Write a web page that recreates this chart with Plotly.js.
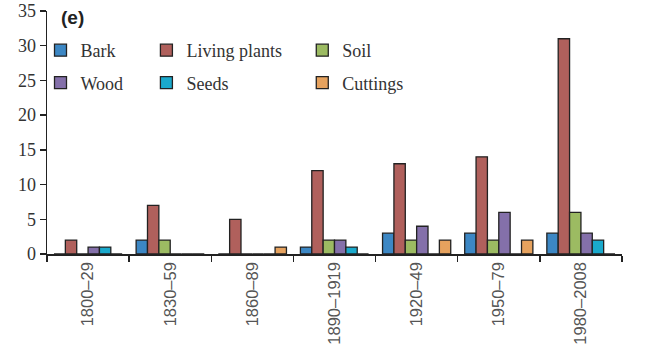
<!DOCTYPE html>
<html>
<head>
<meta charset="utf-8">
<script src="https://cdn.plot.ly/plotly-3.0.1.min.js"></script>
<style>html,body{margin:0;padding:0;background:#fff;}#chart{width:650px;height:358px;}</style>
</head>
<body>
<div id="chart"></div>
<script>
var categories = ['1800–29','1830–59','1860–89','1890–1919','1920–49','1950–79','1980–2008'];
var bark     = [0, 2, 0, 1, 3, 3, 3];
var living   = [2, 7, 5, 12, 13, 14, 31];
var soil     = [0, 2, 0, 2, 2, 2, 6];
var wood     = [1, 0, 0, 2, 4, 6, 3];
var seeds    = [1, 0, 0, 1, 0, 0, 2];
var cuttings = [0, 0, 1, 0, 2, 2, 0];

var seriesNames = ['Bark','Living plants','Soil','Wood','Seeds','Cuttings'];
var seriesData = [bark, living, soil, wood, seeds, cuttings];
var seriesColors = ['#3c87c4','#b0605c','#9cbb62','#8470aa','#1aa9cc','#e6a25e'];
var seriesLegend = ['legend','legend2','legend3','legend','legend2','legend3'];

var traces = seriesNames.map(function(name, i){
  return {
    type: 'bar',
    name: name,
    x: categories,
    y: seriesData[i],
    legend: seriesLegend[i],
    legendgroup: name,
    marker: {color: seriesColors[i], line: {color: '#222', width: 1.3}},
    hoverinfo: 'skip'
  };
});

var L = 46.5, R = 622, T = 11, B = 254, W = 650, H = 358;
function px(x){ return (x - L) / (R - L); }
function py(y){ return (B - y) / (B - T); }

var SERIF = 'Liberation Serif';
var legendFont = {family: SERIF, size: 18, color: '#333'};
function legendAt(x){
  return {x: px(x), xanchor: 'left', y: py(32), yanchor: 'top', orientation: 'v',
    font: legendFont, bgcolor: 'rgba(0,0,0,0)', borderwidth: 0,
    traceorder: 'grouped', tracegroupgap: 6, itemwidth: 30, itemclick: false};
}

var layout = {
  width: W, height: H,
  margin: {l: L, r: W - R, t: T, b: H - B, pad: 0},
  paper_bgcolor: '#fff', plot_bgcolor: '#fff',
  barmode: 'group', bargap: 0.17, bargroupgap: 0,
  showlegend: true,
  legend: legendAt(40),
  legend2: legendAt(146),
  legend3: legendAt(302),
  xaxis: {
    type: 'category', tickson: 'boundaries', ticks: 'outside', ticklen: 6, tickwidth: 1.3, tickcolor: '#222',
    showline: true, linecolor: '#222', linewidth: 1.5, showgrid: false, zeroline: false,
    tickangle: -90, tickfont: {family: 'Liberation Sans', size: 16.5, color: '#555'},
    fixedrange: true
  },
  yaxis: {
    range: [0, 35], dtick: 5, tick0: 0, ticks: 'outside', ticklen: 6, tickwidth: 1.3, tickcolor: '#222',
    showline: true, linecolor: '#222', linewidth: 1.5, showgrid: false, zeroline: false,
    tickfont: {family: SERIF, size: 18, color: '#333'},
    fixedrange: true
  },
  annotations: [{
    text: '<b>(e)</b>', xref: 'paper', yref: 'paper', x: px(59), y: py(18), xanchor: 'left', yanchor: 'middle',
    showarrow: false, font: {family: 'Liberation Sans', size: 19, color: '#222'}
  }]
};

Plotly.newPlot('chart', traces, layout, {displayModeBar: false, staticPlot: true});
</script>
</body>
</html>
